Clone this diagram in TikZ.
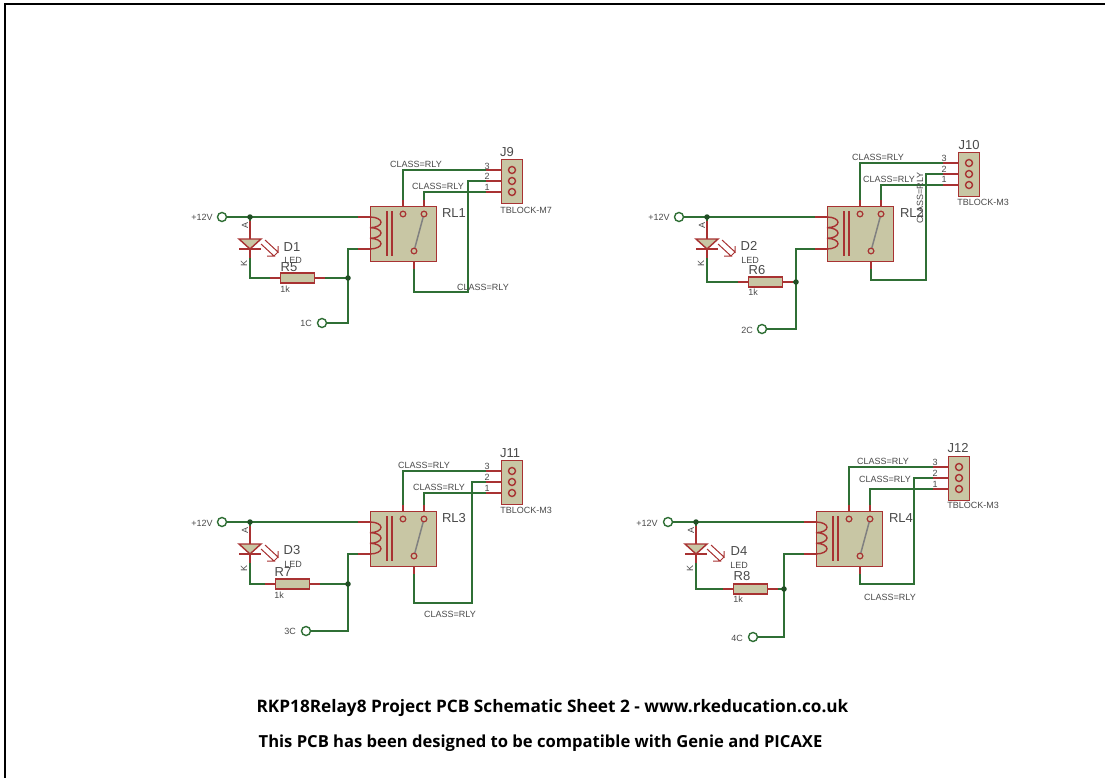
\documentclass[tikz,border=0pt]{standalone}
\usepackage{fontspec}
\setmainfont{Liberation Sans}
\newfontfamily\titlefont{Open Sans}
\definecolor{wire}{HTML}{2F6F35}
\definecolor{pinred}{HTML}{A83232}
\definecolor{body}{HTML}{C8C6A4}
\definecolor{lbl}{HTML}{4A4A4A}
\tikzset{
 wirepath/.style={draw=wire,line width=1.3pt},
 lead/.style={draw=pinred,line width=1.3pt},
 outline/.style={draw=pinred,line width=1.4pt},
 bodybox/.style={rectangle,draw=pinred,line width=1.4pt,fill=body,inner sep=0pt,minimum width=#1},
 port/.style={circle,draw=wire,line width=1.4pt,fill=white,inner sep=0pt,minimum size=9pt},
 pinpt/.style={circle,draw=pinred,line width=1.1pt,fill=body,inner sep=0pt,minimum size=5.5pt},
 jpin/.style={circle,draw=pinred,line width=1.4pt,fill=body,inner sep=0pt,minimum size=7pt},
 jdot/.style={circle,fill=wire!70!black,inner sep=0pt,minimum size=5.5pt},
 small/.style={text=lbl,font=\fontsize{9}{9}\selectfont,inner sep=0pt},
 tiny/.style={text=lbl,font=\fontsize{9}{9}\selectfont,inner sep=0pt},
 ref/.style={text=lbl,font=\fontsize{13}{13}\selectfont,inner sep=0pt},
 titletxt/.style={text=black,inner sep=0pt}
}
\def\circuit#1#2#3#4#5#6#7#8#9{%
 \pgfmathsetmacro\rx{#2}\pgfmathsetmacro\ry{#3}%
 \coordinate (cTop#1) at (\rx,\ry+11);
 \coordinate (cBot#1) at (\rx,\ry+43);
 \node[bodybox=66pt,minimum height=55pt,anchor=north west] (rl#1) at (\rx,\ry) {};
 \node[port] (p#1) at (\rx-148,\ry+11) {};
 \node[port] (c#1) at (#7,#8) {};
 \node[bodybox=34pt,minimum height=10pt,anchor=west] (r#1) at (#4,#5) {};
 \coordinate (ledA#1) at (\rx-120,\ry+33);
 \coordinate (ledK#1) at (\rx-120,\ry+43);
 \coordinate (kn#1) at (\rx-120,#5);
 \coordinate (bn#1) at (#6,\ry+43);
 \node[pinpt] (no#1) at (\rx+33,\ry+8) {};
 \node[pinpt] (nc#1) at (\rx+54,\ry+8) {};
 \node[pinpt] (com#1) at (\rx+44,\ry+45) {};
 \node[bodybox=21pt,minimum height=44pt,anchor=north west] (hdr#1) at (\jx,\jy) {};
 \node[jpin] (h3#1) at (\jx+11,\jy+11) {};
 \node[jpin] (h2#1) at (\jx+11,\jy+22) {};
 \node[jpin] (h1#1) at (\jx+11,\jy+33) {};
 \coordinate (lowA#1) at (\rx+44,#9);
 \coordinate (lowB#1) at (\wirex,#9);
 \coordinate (j#1) at (\rx-120,\ry+11);
 \coordinate (k#1) at (#6,#5);
 \begin{pgfonlayer}{bg}
 \draw[wirepath] (p#1.east) -- (j#1) -- (cTop#1);
 \draw[wirepath] (j#1) -- (ledA#1);
 \draw[wirepath] (ledK#1) -- (kn#1) -- (r#1.west);
 \draw[wirepath] (r#1.east) -- (k#1);
 \draw[wirepath] (cBot#1) -- (bn#1) -- (k#1) -- (c#1.east -| k#1) -- (c#1.east);
 \draw[wirepath] (no#1) |- (h3#1);
 \draw[wirepath] (nc#1) |- (h1#1);
 \draw[wirepath] (com#1) -- (lowA#1) -- (lowB#1) |- (h2#1);
 \draw[lead] (\rx-12,\ry+11) -- (cTop#1);
 \draw[lead] (\rx-12,\ry+43) -- (cBot#1);
 \draw[lead] (no#1) -- ++(0,-14);
 \draw[lead] (nc#1) -- ++(0,-14);
 \draw[lead] (com#1) -- ++(0,18);
 \draw[lead] (h3#1) -- ++(-26,0);
 \draw[lead] (h2#1) -- ++(-26,0);
 \draw[lead] (h1#1) -- ++(-26,0);
 \draw[lead] (r#1.west) -- ++(-10,0);
 \draw[lead] (r#1.east) -- ++(10,0);
 \draw[lead] (j#1) ++(0,4) -- (ledK#1) -- ++(0,9);
 \end{pgfonlayer}
 \node[jdot] (jd#1) at (j#1) {};
 \node[jdot] (kd#1) at (k#1) {};
 \draw[outline] (cTop#1) arc[start angle=-90,end angle=90,x radius=11,y radius=5.33]
   arc[start angle=-90,end angle=90,x radius=11,y radius=5.33]
   arc[start angle=-90,end angle=90,x radius=11,y radius=5.33];
 \draw[outline] (\rx+17,\ry+5) -- (\rx+17,\ry+50);
 \draw[outline] (\rx+22,\ry+5) -- (\rx+22,\ry+50);
 \draw[draw=gray,line width=1.5pt] (com#1) -- (nc#1);
 \node[pinpt] at (no#1) {};
 \node[pinpt] at (nc#1) {};
 \node[pinpt] at (com#1) {};
 \draw[outline,fill=body] (\rx-131,\ry+33) -- (\rx-109,\ry+33) -- (ledK#1) -- cycle;
 \draw[outline] (\rx-131,\ry+43) -- (\rx-109,\ry+43);
 \draw[draw=pinred,line width=1pt] (\rx-105,\ry+34) -- (\rx-92,\ry+46) -- (\rx-92,\ry+40);
 \draw[draw=pinred,line width=1pt] (\rx-109,\ry+38) -- (\rx-96,\ry+50) -- (\rx-103,\ry+50) (\rx-96,\ry+50) -- (\rx-92,\ry+46);
 \node[small,rotate=90] (a#1) at (\rx-125,\ry+19) {A};
 \node[small,rotate=90] (ka#1) at (\rx-126,\ry+57) {K};
}
\pgfdeclarelayer{bg}
\pgfsetlayers{bg,main}
\begin{document}
\begin{tikzpicture}[x=1pt,y=-1pt]
\useasboundingbox (0,0) rectangle (1105,778);
\begin{pgfonlayer}{bg}
\fill[white] (0,0) rectangle (1105,778);
\end{pgfonlayer}
\draw[black,line width=2pt] (5,778) -- (5,4) -- (1105,4);
\def\wirex{468}\def\jx{501}\def\jy{159}
\circuit{1}{370}{206}{280}{278}{348}{322}{323}{292}
\def\wirex{926}\def\jx{958}\def\jy{152}
\circuit{2}{827}{206}{748}{282}{796}{762}{329}{280}
\def\wirex{472}\def\jx{501}\def\jy{460}
\circuit{3}{370}{511}{275}{584}{348}{306}{631}{603}
\def\wirex{914}\def\jx{948}\def\jy{456}
\circuit{4}{816}{511}{733}{589}{784}{753}{637}{584}
\node[small] (t1a) at (416,164) {CLASS=RLY};
\node[small] (t1b) at (438,186) {CLASS=RLY};
\node[small] (t1c) at (483,287) {CLASS=RLY};
\node[ref] (n1) at (454,213) {RL1};
\node[ref] (n1j) at (507,152) {J9};
\node[small] (n1t) at (526,210) {TBLOCK-M7};
\node[small] (n13) at (487,166) {3};
\node[small] (n12) at (487,176) {2};
\node[small] (n11) at (487,187) {1};
\node[tiny] (n1v) at (202,217) {+12V};
\node[ref] (n1d) at (292,247) {D1};
\node[small] (n1l) at (293,260) {LED};
\node[ref] (n1r) at (289,267) {R5};
\node[small] (n1k) at (285,289) {1k};
\node[tiny] (n1c) at (306,323) {1C};
\node[small] (t2a) at (878,157) {CLASS=RLY};
\node[small] (t2b) at (889,179) {CLASS=RLY};
\node[small,rotate=90] (t2c) at (920,198) {CLASS=RLY};
\node[ref] (n2) at (912,213) {RL2};
\node[ref] (n2j) at (969,145) {J10};
\node[small] (n2t) at (983,202) {TBLOCK-M3};
\node[small] (n23) at (944,158) {3};
\node[small] (n22) at (944,169) {2};
\node[small] (n21) at (944,179) {1};
\node[tiny] (n2v) at (659,217) {+12V};
\node[ref] (n2d) at (749,246) {D2};
\node[small] (n2l) at (750,260) {LED};
\node[ref] (n2r) at (757,270) {R6};
\node[small] (n2k) at (753,292) {1k};
\node[tiny] (n2c) at (747,330) {2C};
\node[small] (t3a) at (424,465) {CLASS=RLY};
\node[small] (t3b) at (439,487) {CLASS=RLY};
\node[small] (t3c) at (450,614) {CLASS=RLY};
\node[ref] (n3) at (454,518) {RL3};
\node[ref] (n3j) at (510,453) {J11};
\node[small] (n3t) at (526,510) {TBLOCK-M3};
\node[small] (n33) at (487,466) {3};
\node[small] (n32) at (487,477) {2};
\node[small] (n31) at (487,488) {1};
\node[tiny] (n3v) at (202,523) {+12V};
\node[ref] (n3d) at (292,550) {D3};
\node[small] (n3l) at (293,564) {LED};
\node[ref] (n3r) at (283,572) {R7};
\node[small] (n3k) at (279,595) {1k};
\node[tiny] (n3c) at (290,631) {3C};
\node[small] (t4a) at (883,461) {CLASS=RLY};
\node[small] (t4b) at (885,479) {CLASS=RLY};
\node[small] (t4c) at (890,597) {CLASS=RLY};
\node[ref] (n4) at (901,518) {RL4};
\node[ref] (n4j) at (958,448) {J12};
\node[small] (n4t) at (973,505) {TBLOCK-M3};
\node[small] (n43) at (935,462) {3};
\node[small] (n42) at (935,473) {2};
\node[small] (n41) at (935,484) {1};
\node[tiny] (n4v) at (647,523) {+12V};
\node[ref] (n4d) at (739,551) {D4};
\node[small] (n4l) at (739,565) {LED};
\node[ref] (n4r) at (742,576) {R8};
\node[small] (n4k) at (738,599) {1k};
\node[tiny] (n4c) at (737,638) {4C};
\node[titletxt,font=\titlefont\bfseries\fontsize{17.2}{17.2}\selectfont] (title1) at (552.5,708) {RKP18Relay8 Project PCB Schematic Sheet 2 - www.rkeducation.co.uk};
\node[titletxt,font=\titlefont\bfseries\fontsize{16.6}{16.6}\selectfont] (title2) at (540.5,743) {This PCB has been designed to be compatible with Genie and PICAXE};
\end{tikzpicture}
\end{document}
